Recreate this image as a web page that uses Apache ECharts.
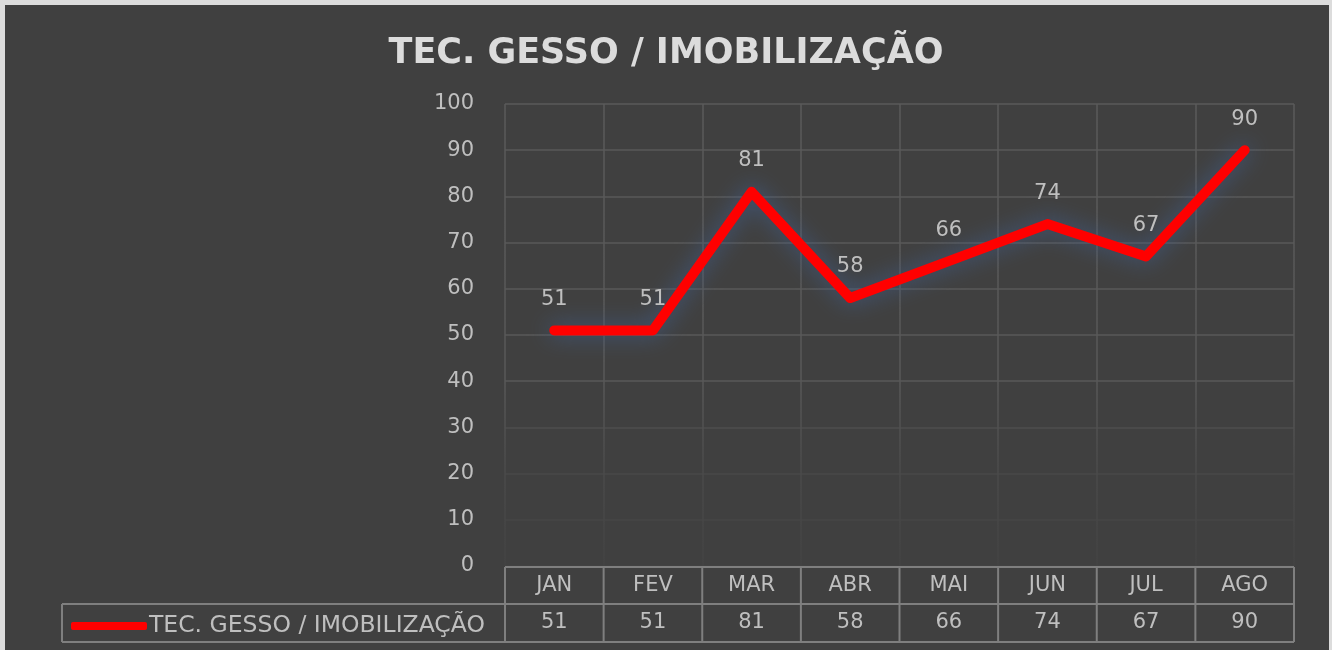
<!DOCTYPE html>
<html lang="pt">
<head>
    <meta charset="UTF-8">
    <title>TEC. GESSO / IMOBILIZAÇÃO</title>
    <script src="https://cdn.jsdelivr.net/npm/echarts@6/dist/echarts.min.js"></script>
</head>
<style>
    *{
        margin: 0;
        padding: 0;
    }
    html,body{
        width: 100%;
        height: 100%;
        overflow: hidden;
        background: #dcdcdc;
    }
    .frame{
        position: absolute;
        left: 5px;
        top: 5px;
        width: 1324px;
        height: 645px;
        background: #404040;
    }
    .container{
        position: absolute;
        left: 0;
        top: 0;
        width: 1332px;
        height: 650px;
    }
</style>
<body>
<div class="frame"></div>
<div class="container"></div>
<script>
   // dados
   let seriesName = 'TEC. GESSO / IMOBILIZAÇÃO';
   let months = ['JAN', 'FEV', 'MAR', 'ABR', 'MAI', 'JUN', 'JUL', 'AGO'];
   let values = [51, 51, 81, 58, 66, 74, 67, 90];

   let txt = '#bfbfbf';
   let font = 'DejaVu Sans';
   let border = '#7f7f7f';

   let container = document.querySelector('.container');
   let mycharts = echarts.init(container);

   let options = {
       title: {
           text: seriesName,
           left: 'center',
           top: 31,
           textStyle: {
               color: '#dcdcdc',
               fontFamily: font,
               fontWeight: 'bold',
               fontSize: 35
           }
       },
       legend: {
           left: 66,
           top: 609,
           icon: 'roundRect',
           itemWidth: 76,
           itemHeight: 8,
           itemGap: 4,
           selectedMode: false,
           textStyle: {color: txt, fontFamily: font, fontSize: 23.5, padding: [0, 0, 0, -3]},
           data: [seriesName]
       },
       grid: {
           left: 505,
           right: 38,
           top: 104,
           bottom: 84
       },
       xAxis: [{
           type: 'category',
           data: months,
           boundaryGap: true,
           axisLine: {show: false},
           axisTick: {show: false},
           axisLabel: {color: txt, fontFamily: font, fontSize: 21, margin: 9},
           splitLine: {
               show: true,
               interval: 0,
               lineStyle: {
                   width: 1.5,
                   color: {
                       type: 'linear', x: 0, y: 104, x2: 0, y2: 566, global: true,
                       colorStops: [
                           {offset: 0, color: '#5a5a5a'},
                           {offset: 0.6, color: '#585858'},
                           {offset: 0.8, color: '#4a4a4a'},
                           {offset: 1, color: '#434343'}
                       ]
                   }
               }
           }
       }, {
           type: 'category',
           data: values.map(String),
           position: 'bottom',
           offset: 37,
           boundaryGap: true,
           axisLine: {show: false},
           axisTick: {show: false},
           axisLabel: {color: txt, fontFamily: font, fontSize: 21, margin: 9}
       }],
       yAxis: {
           type: 'value',
           min: 0,
           max: 100,
           interval: 10,
           axisLine: {show: false},
           axisTick: {show: false},
           axisLabel: {color: txt, fontFamily: font, fontSize: 21, margin: 31},
           splitLine: {
               lineStyle: {
                   width: 1.5,
                   color: ['#434343', '#464646', '#494949', '#4e4e4e', '#585858', '#585858',
                       '#585858', '#585858', '#585858', '#585858', '#5a5a5a']
               }
           }
       },
       series: [{
           name: seriesName,
           type: 'line',
           data: values,
           symbol: 'circle',
           symbolSize: 1,
           itemStyle: {color: '#ff0000'},
           lineStyle: {
               color: '#ff0000',
               width: 10,
               join: 'round',
               cap: 'round',
               shadowColor: 'rgba(65, 95, 145, 0.85)',
               shadowBlur: 22
           },
           label: {
               show: true,
               position: 'top',
               distance: 20,
               color: txt,
               fontFamily: font,
               fontSize: 21
           }
       }]
   };
   mycharts.setOption(options);

   // bordas da tabela de dados
   let x0 = mycharts.convertToPixel({xAxisIndex: 0}, months[0]);
   let x1 = mycharts.convertToPixel({xAxisIndex: 0}, months[1]);
   let band = x1 - x0;
   let left = x0 - band / 2;
   let right = left + band * months.length;
   let yTop = mycharts.convertToPixel({yAxisIndex: 0}, 0) + 1;
   let yMid = yTop + 37;
   let yBot = yMid + 38;
   let ls = {stroke: border, lineWidth: 2};
   let lines = [
       [left, yTop, right, yTop],
       [62, yMid, right, yMid],
       [62, yBot, right, yBot],
       [62, yMid, 62, yBot]
   ];
   for (let i = 0; i <= months.length; i++) {
       let x = left + band * i;
       lines.push([x, yTop, x, yBot]);
   }
   mycharts.setOption({
       graphic: lines.map(l => ({
           type: 'line',
           shape: {x1: l[0], y1: l[1], x2: l[2], y2: l[3]},
           style: ls,
           silent: true
       }))
   });
</script>

</body>
</html>
